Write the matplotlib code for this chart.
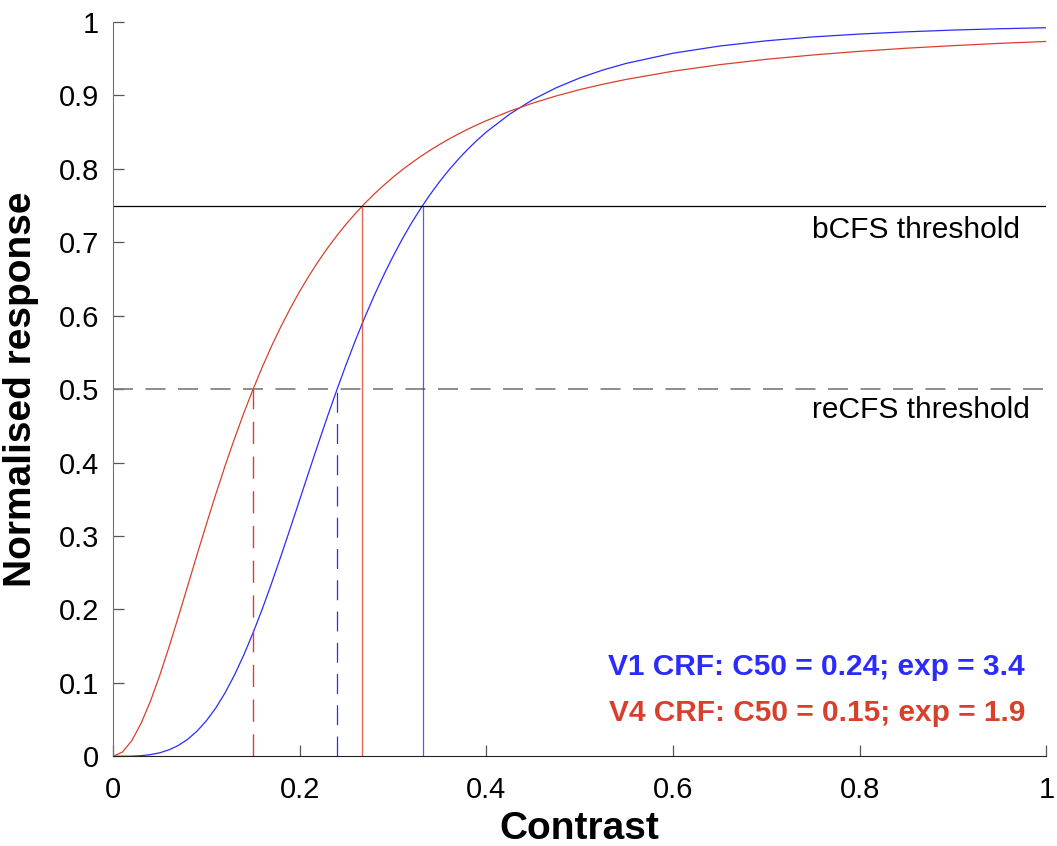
import matplotlib.pyplot as plt

plt.rcParams['font.family'] = ['Liberation Sans', 'DejaVu Sans']

# values
contrast = [0, 0.01, 0.02, 0.03, 0.04, 0.05, 0.06, 0.07, 0.08, 0.09, 0.10,
            0.11, 0.12, 0.13, 0.14, 0.15, 0.16, 0.17, 0.18, 0.19, 0.20,
            0.21, 0.22, 0.23, 0.24, 0.25, 0.26, 0.27, 0.28, 0.29, 0.30,
            0.31, 0.32, 0.33, 0.34, 0.35, 0.36, 0.37, 0.38, 0.39, 0.40,
            0.425, 0.45, 0.475, 0.50, 0.525, 0.55, 0.60, 0.65, 0.70, 0.75,
            0.80, 0.85, 0.90, 0.95, 1.0]
v1_resp = [0, 0.0000, 0.0002, 0.0009, 0.0023, 0.0048, 0.0089, 0.0149, 0.0233, 0.0344, 0.0485,
           0.0658, 0.0865, 0.1106, 0.1379, 0.1683, 0.2012, 0.2364, 0.2733, 0.3112, 0.3498,
           0.3884, 0.4266, 0.4639, 0.5000, 0.5347, 0.5677, 0.5988, 0.6281, 0.6555, 0.6810,
           0.7048, 0.7268, 0.7470, 0.7657, 0.7829, 0.7988, 0.8133, 0.8267, 0.8390, 0.8503,
           0.8746, 0.8945, 0.9106, 0.9238, 0.9347, 0.9437, 0.9575, 0.9673, 0.9744, 0.9797,
           0.9836, 0.9866, 0.9890, 0.9908, 0.9922]
v4_resp = [0, 0.0058, 0.0213, 0.0449, 0.0751, 0.1103, 0.1492, 0.1903, 0.2325, 0.2748, 0.3164,
           0.3568, 0.3956, 0.4324, 0.4673, 0.5000, 0.5306, 0.5592, 0.5857, 0.6104, 0.6334,
           0.6546, 0.6743, 0.6926, 0.7095, 0.7252, 0.7398, 0.7534, 0.7660, 0.7777, 0.7887,
           0.7989, 0.8084, 0.8173, 0.8256, 0.8334, 0.8407, 0.8475, 0.8540, 0.8600, 0.8657,
           0.8786, 0.8897, 0.8994, 0.9079, 0.9153, 0.9219, 0.9330, 0.9419, 0.9492, 0.9551,
           0.9601, 0.9643, 0.9678, 0.9709, 0.9735]

# thresholds and where each curve crosses them
bcfs_level = 0.75
recfs_level = 0.5
v1_cross = {'re': 0.24, 'b': 0.332}
v4_cross = {'re': 0.15, 'b': 0.267}

blue = '#2b2bff'
red = '#d9402c'

fig = plt.figure(figsize=(10.57, 8.46), dpi=100)
ax = fig.add_axes([0.107, 0.106, 0.883, 0.868])

ax.plot(contrast, v1_resp, color=blue, lw=0.9)
ax.plot(contrast, v4_resp, color=red, lw=0.9)

ax.axhline(bcfs_level, color='black', lw=0.9)
ax.axhline(recfs_level, color='#7a7a7a', lw=1.2, linestyle=(0, (12, 7.5)))

ax.vlines(v4_cross['re'], 0, recfs_level, color=red, lw=1.0, linestyles=[(0, (16, 9))])
ax.vlines(v1_cross['re'], 0, recfs_level, color=blue, lw=0.9, linestyles=[(0, (16, 9))])
ax.vlines(v4_cross['b'], 0, bcfs_level, color=red, lw=1.0, alpha=0.8)
ax.vlines(v1_cross['b'], 0, bcfs_level, color=blue, lw=0.9, alpha=0.8)

ax.text(0.749, 0.717, 'bCFS threshold', fontsize=21.5, va='center', ha='left')
ax.text(0.749, 0.471, 'reCFS threshold', fontsize=21.5, va='center', ha='left')

ax.text(0.977, 0.121, 'V1 CRF: C50 = 0.24; exp = 3.4', color=blue, fontsize=21.5,
        fontweight='bold', ha='right', va='center')
ax.text(0.977, 0.059, 'V4 CRF: C50 = 0.15; exp = 1.9', color=red, fontsize=21.5,
        fontweight='bold', ha='right', va='center')

ax.set_xlim(0, 1)
ax.set_ylim(0, 1)
ax.set_xticks([0, 0.2, 0.4, 0.6, 0.8, 1])
ax.set_xticklabels(['0', '0.2', '0.4', '0.6', '0.8', '1'])
ax.set_yticks([0, 0.1, 0.2, 0.3, 0.4, 0.5, 0.6, 0.7, 0.8, 0.9, 1])
ax.set_yticklabels(['0', '0.1', '0.2', '0.3', '0.4', '0.5', '0.6', '0.7', '0.8', '0.9', '1'])
ax.tick_params(direction='in', length=8, width=0.9, labelsize=21, pad=10, color='#555555')
ax.tick_params(axis='x', pad=14)

ax.spines['top'].set_visible(False)
ax.spines['right'].set_visible(False)
ax.spines['left'].set_color('#707070')
ax.spines['bottom'].set_color('#222222')

ax.set_xlabel('Contrast', fontsize=28, fontweight='bold', labelpad=5)
ax.set_ylabel('Normalised response', fontsize=28, fontweight='bold', labelpad=14)

fig.savefig('out.png', dpi=100)
